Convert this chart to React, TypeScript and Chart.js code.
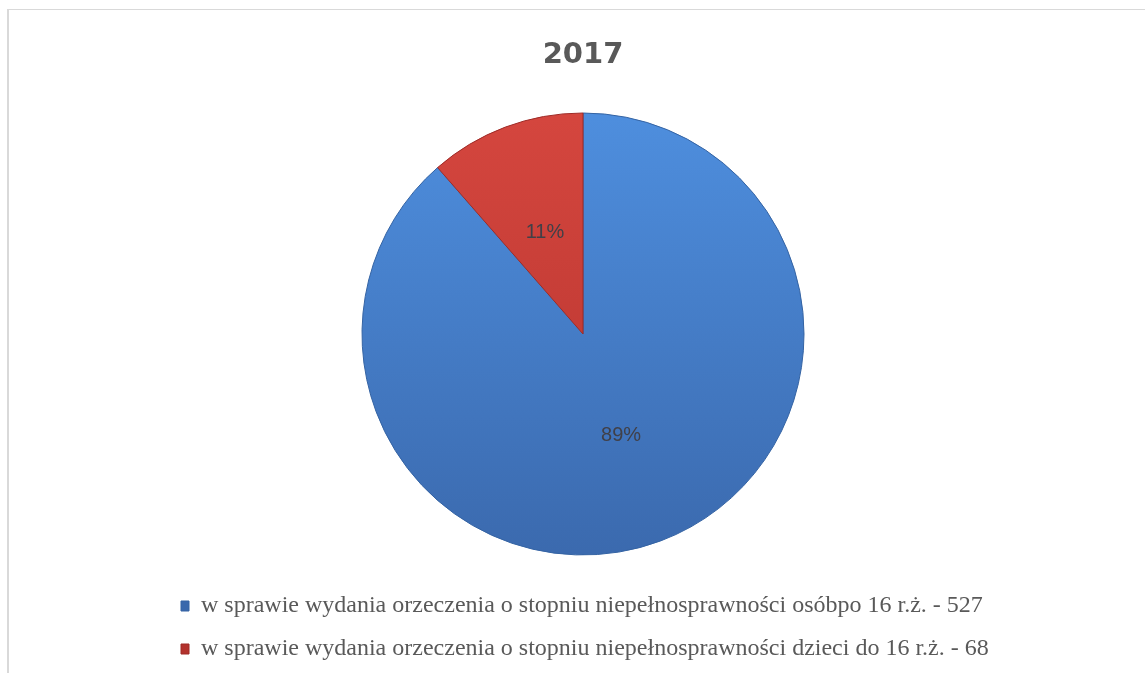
import React, { useEffect, useRef } from 'react';
import { Chart, registerables } from 'chart.js';

Chart.register(...registerables);

const TITLE = '2017';
const categories = [
  'w sprawie wydania orzeczenia o stopniu niepełnosprawności osóbpo 16 r.ż. - 527',
  'w sprawie wydania orzeczenia o stopniu niepełnosprawności dzieci do 16 r.ż. - 68',
];
const values = [527, 68];
const topColors = ['#4f90e0', '#d6473f'];
const bottomColors = ['#3a68ac', '#b3322d'];
const edgeColors = ['#3463a3', '#9e2b27'];

const pctLabels = {
  id: 'pctLabels',
  afterDatasetsDraw(chart: any) {
    const meta = chart.getDatasetMeta(0);
    const data = chart.data.datasets[0].data as number[];
    const total = data.reduce((a, b) => a + b, 0);
    const c = chart.ctx;
    c.save();
    c.font = '20px "Liberation Sans", Arial, sans-serif';
    c.fillStyle = '#404048';
    c.textAlign = 'center';
    c.textBaseline = 'middle';
    meta.data.forEach((arc: any, i: number) => {
      const p = arc.getProps(['x', 'y', 'startAngle', 'endAngle', 'outerRadius'], true);
      const mid = (p.startAngle + p.endAngle) / 2;
      const r = p.outerRadius * 0.49;
      c.fillText(Math.round((data[i] / total) * 100) + '%', p.x + Math.cos(mid) * r, p.y + Math.sin(mid) * r);
    });
    c.restore();
  },
};

export default function App() {
  const ref = useRef<HTMLCanvasElement | null>(null);

  useEffect(() => {
    if (!ref.current) return;
    const chart = new Chart(ref.current, {
      type: 'pie',
      data: {
        labels: categories,
        datasets: [
          {
            data: values,
            backgroundColor: (ctx: any) => {
              const ch = ctx.chart;
              const area = ch.chartArea;
              const i = ctx.dataIndex ?? 0;
              if (!area) return topColors[i];
              const g = ch.ctx.createLinearGradient(0, area.top, 0, area.bottom);
              g.addColorStop(0, topColors[i]);
              g.addColorStop(1, bottomColors[i]);
              return g;
            },
            borderColor: edgeColors,
            borderWidth: 1,
            radius: 221,
          } as any,
        ],
      },
      options: {
        responsive: false,
        animation: false,
        layout: { padding: { left: 153, right: 141, top: 0, bottom: 3 } },
        plugins: {
          title: {
            display: true,
            text: TITLE,
            color: '#595959',
            font: { family: '"DejaVu Sans", sans-serif', size: 29, weight: 'bold' },
            padding: { top: 28, bottom: 20.2 },
          },
          legend: {
            display: true,
            position: 'bottom',
            align: 'start',
            labels: {
              color: '#595959',
              font: { family: '"Liberation Serif", "Times New Roman", serif', size: 24 },
              boxWidth: 8,
              boxHeight: 10,
              padding: 19,
            },
          },
          tooltip: { enabled: false },
        },
      },
      plugins: [pctLabels],
    });
    return () => chart.destroy();
  }, []);

  return (
    <div
      style={{
        position: 'fixed',
        left: 7,
        top: 9,
        width: 1145,
        height: 680,
        borderTop: '1px solid #d9d9d9',
        borderLeft: '2px solid #d9d9d9',
        background: '#ffffff',
        boxSizing: 'border-box',
      }}
    >
      <canvas ref={ref} width={1136} height={664} style={{ display: 'block', width: 1136, height: 664 }} />
    </div>
  );
}
